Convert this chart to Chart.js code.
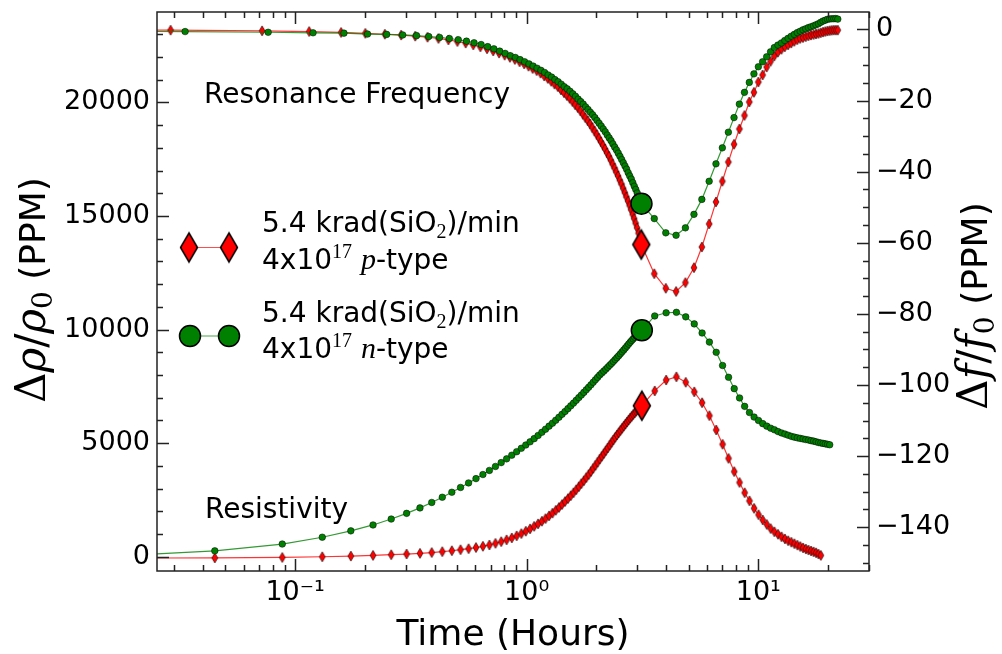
<!DOCTYPE html>
<html lang="en">
<head>
<meta charset="UTF-8">
<title>Resistivity and resonance frequency vs time</title>
<script src="https://cdn.jsdelivr.net/npm/chart.js@4.4.1/dist/chart.umd.min.js"></script>
<style>
  html, body { margin: 0; padding: 0; background: #fff; }
</style>
</head>
<body>
<canvas id="grafico" width="1002" height="654"></canvas>
<script>
// time (hours) - during irradiation (fine steps) and after (coarse steps)
const tPreP = [0.0145, 0.029, 0.072, 0.115, 0.158, 0.201, 0.244, 0.287, 0.330, 0.373, 0.416, 0.459, 0.502, 0.545, 0.588, 0.631, 0.674, 0.717, 0.760, 0.803, 0.846, 0.889, 0.932, 0.975, 1.018, 1.061, 1.104, 1.147, 1.190, 1.233, 1.276, 1.319, 1.362, 1.405, 1.448, 1.491, 1.534, 1.577, 1.620, 1.663, 1.706, 1.749, 1.792, 1.835, 1.878, 1.921, 1.964, 2.007, 2.050, 2.093, 2.136, 2.179, 2.222, 2.265, 2.308, 2.351, 2.394, 2.437, 2.480, 2.523, 2.566, 2.609, 2.652, 2.695, 2.738, 2.781, 2.824, 2.867, 2.910, 2.953, 2.996, 3.039, 3.082, 3.125];
const tPreN = [0.0145, 0.0335, 0.0765, 0.1195, 0.1625, 0.2055, 0.2485, 0.2915, 0.3345, 0.3775, 0.4205, 0.4635, 0.5065, 0.5495, 0.5925, 0.6355, 0.6785, 0.7215, 0.7645, 0.8075, 0.8505, 0.8935, 0.9365, 0.9795, 1.0225, 1.0655, 1.1085, 1.1515, 1.1945, 1.2375, 1.2805, 1.3235, 1.3665, 1.4095, 1.4525, 1.4955, 1.5385, 1.5815, 1.6245, 1.6675, 1.7105, 1.7535, 1.7965, 1.8395, 1.8825, 1.9255, 1.9685, 2.0115, 2.0545, 2.0975, 2.1405, 2.1835, 2.2265, 2.2695, 2.3125, 2.3555, 2.3985, 2.4415, 2.4845, 2.5275, 2.5705, 2.6135, 2.6565, 2.6995, 2.7425, 2.7855, 2.8285, 2.8715, 2.9145, 2.9575, 3.0005, 3.0435, 3.0865, 3.1295];
const tPreRes = [0.0145, 0.045, 0.088, 0.131, 0.174, 0.217, 0.260, 0.303, 0.346, 0.389, 0.432, 0.475, 0.518, 0.561, 0.604, 0.647, 0.690, 0.733, 0.776, 0.819, 0.862, 0.905, 0.948, 0.991, 1.034, 1.077, 1.120, 1.163, 1.206, 1.249, 1.292, 1.335, 1.378, 1.421, 1.464, 1.507, 1.550, 1.593, 1.636, 1.679, 1.722, 1.765, 1.808, 1.851, 1.894, 1.937, 1.980, 2.023, 2.066, 2.109, 2.152, 2.195, 2.238, 2.281, 2.324, 2.367, 2.410, 2.453, 2.496, 2.539, 2.582, 2.625, 2.668, 2.711, 2.754, 2.797, 2.840, 2.883, 2.926, 2.969, 3.012, 3.055, 3.098, 3.141];
const tPostFreq = [3.555, 3.985, 4.415, 4.845, 5.275, 5.705, 6.135, 6.565, 6.995, 7.425, 7.855, 8.285, 8.715, 9.145, 9.575, 10.005, 10.435, 10.865, 11.295, 11.725, 12.155, 12.585, 13.015, 13.445, 13.875, 14.305, 14.735, 15.165, 15.595, 16.025, 16.455, 16.885, 17.315, 17.745, 18.175, 18.605, 19.035, 19.465, 19.895, 20.325, 20.755, 21.185, 21.615, 22.045];
const tPostRes = [3.57, 4.00, 4.43, 4.86, 5.29, 5.72, 6.15, 6.58, 7.01, 7.44, 7.87, 8.30, 8.73, 9.16, 9.59, 10.02, 10.45, 10.88, 11.31, 11.74, 12.17, 12.60, 13.03, 13.46, 13.89, 14.32, 14.75, 15.18, 15.61, 16.04, 16.47, 16.90, 17.33, 17.76, 18.19, 18.62, 19.05, 19.48, 19.91, 20.34];

// resonance frequency shift (PPM, right axis)
const freqPPre = [-0.2, -0.2, -0.4, -0.6, -0.85, -1.1, -1.35, -1.6, -1.9, -2.2, -2.55, -2.95, -3.4, -3.85, -4.35, -4.9, -5.45, -6.05, -6.65, -7.25, -7.85, -8.45, -9.1, -9.7, -10.35, -11.0, -11.6, -12.3, -13.1, -13.8, -14.6, -15.4, -16.1, -17.0, -17.8, -18.6, -19.4, -20.3, -21.2, -22.0, -22.9, -23.9, -24.8, -25.7, -26.6, -27.6, -28.6, -29.6, -30.6, -31.6, -32.6, -33.6, -34.7, -35.7, -36.8, -37.9, -39.0, -40.1, -41.2, -42.4, -43.5, -44.7, -45.9, -47.1, -48.3, -49.5, -50.7, -52.0, -53.2, -54.5, -55.8, -57.3, -58.9, -60.5];
const freqPPost = [-68.7, -72.8, -73.7, -71.2, -67.0, -61.2, -54.7, -48.5, -42.7, -37.3, -32.3, -28.0, -24.2, -20.4, -17.7, -14.8, -12.8, -10.6, -9.0, -7.5, -6.4, -5.6, -4.9, -4.35, -3.85, -3.35, -2.9, -2.55, -2.3, -2.05, -1.8, -1.6, -1.45, -1.3, -1.15, -0.95, -0.75, -0.6, -0.45, -0.35, -0.25, -0.2, -0.2, -0.2];
const freqNPre = [-0.55, -0.6, -0.8, -0.95, -1.05, -1.3, -1.4, -1.55, -1.75, -2.0, -2.25, -2.55, -2.9, -3.3, -3.75, -4.25, -4.85, -5.45, -6.1, -6.75, -7.4, -7.9, -8.5, -9.1, -9.7, -10.3, -10.9, -11.5, -12.1, -12.8, -13.4, -14.1, -14.7, -15.4, -16.1, -16.7, -17.4, -18.1, -18.8, -19.6, -20.3, -21.0, -21.8, -22.5, -23.3, -24.0, -24.8, -25.6, -26.4, -27.2, -28.0, -28.8, -29.7, -30.5, -31.3, -32.2, -33.1, -33.9, -34.8, -35.7, -36.6, -37.5, -38.4, -39.3, -40.3, -41.2, -42.1, -43.1, -44.1, -45.0, -46.0, -47.0, -48.0, -49.0];
const freqNPost = [-53.2, -57.2, -57.9, -55.8, -52.0, -47.8, -42.7, -37.8, -33.3, -28.9, -24.8, -21.0, -17.7, -14.9, -12.5, -10.5, -9.1, -7.7, -6.3, -5.1, -4.4, -3.8, -3.1, -2.5, -1.9, -1.4, -0.9, -0.5, -0.1, 0.2, 0.5, 0.75, 1.0, 1.3, 1.6, 2.0, 2.35, 2.6, 2.85, 2.95, 3.0, 3.0, 3.05, 2.9];

// resistivity change (PPM, left axis)
const resPPre = [-60, -50, -30, 0, 30, 60, 90, 120, 150, 185, 225, 265, 310, 355, 405, 460, 520, 590, 665, 745, 830, 920, 1020, 1125, 1230, 1340, 1450, 1565, 1680, 1800, 1920, 2045, 2170, 2300, 2430, 2560, 2690, 2820, 2950, 3085, 3220, 3350, 3485, 3620, 3755, 3890, 4025, 4160, 4295, 4420, 4545, 4670, 4790, 4910, 5030, 5145, 5255, 5360, 5460, 5560, 5655, 5750, 5840, 5930, 6015, 6100, 6180, 6260, 6335, 6405, 6475, 6540, 6600, 6650];
const resPPost = [7300, 7780, 7920, 7680, 7260, 6780, 6210, 5580, 4950, 4330, 3750, 3270, 2820, 2460, 2130, 1850, 1620, 1420, 1240, 1100, 990, 880, 785, 705, 640, 575, 510, 450, 390, 340, 295, 255, 215, 175, 120, 60];
const resNPre = [0, 260, 560, 860, 1140, 1400, 1660, 1910, 2150, 2390, 2620, 2840, 3050, 3250, 3440, 3620, 3800, 3975, 4145, 4310, 4470, 4625, 4775, 4920, 5060, 5200, 5340, 5480, 5615, 5750, 5880, 6010, 6140, 6270, 6395, 6520, 6645, 6765, 6885, 7005, 7120, 7235, 7350, 7460, 7570, 7680, 7790, 7895, 8000, 8085, 8170, 8255, 8340, 8425, 8510, 8595, 8680, 8765, 8850, 8935, 9020, 9105, 9190, 9275, 9360, 9440, 9520, 9590, 9660, 9730, 9800, 9860, 9920, 9970];
const resNPost = [10600, 10740, 10760, 10560, 10250, 9850, 9450, 9000, 8420, 7900, 7400, 6990, 6620, 6350, 6150, 6000, 5860, 5750, 5660, 5590, 5510, 5450, 5400, 5350, 5300, 5265, 5235, 5210, 5185, 5160, 5140, 5110, 5090, 5060, 5030, 5010, 4990, 4970, 4950, 4930];

// tick labels
const xTicks = [0.1, 1, 10];
const xTickLabels = ['10⁻¹', '10⁰', '10¹'];
const yTicks = [0, 5000, 10000, 15000, 20000];
const yTickLabels = ['0', '5000', '10000', '15000', '20000'];
const y2Ticks = [-140, -120, -100, -80, -60, -40, -20, 0];
const y2TickLabels = ['−140', '−120', '−100', '−80', '−60', '−40', '−20', '0'];

const RED = '#ff0000';
const GREEN = '#008000';

function points(times, values) {
  return values.map((v, i) => ({ x: times[i], y: v }));
}
function last(arr) { return arr[arr.length - 1]; }

// thin diamond marker drawn on a small canvas
function diamond(w, h, fill, lw) {
  const c = document.createElement('canvas');
  c.width = Math.ceil(w + lw * 2 + 2);
  c.height = Math.ceil(h + lw * 2 + 2);
  const g = c.getContext('2d');
  const cx = c.width / 2, cy = c.height / 2;
  g.beginPath();
  g.moveTo(cx, cy - h / 2);
  g.lineTo(cx + w / 2, cy);
  g.lineTo(cx, cy + h / 2);
  g.lineTo(cx - w / 2, cy);
  g.closePath();
  g.fillStyle = fill;
  g.fill();
  g.lineWidth = lw;
  g.strokeStyle = '#000';
  g.stroke();
  return c;
}
const smallDiamond = diamond(6, 10, RED, 0.6);
const bigDiamond = diamond(17, 29, RED, 1.5);

function rich(ctx, parts, x, y, align) {
  let w = 0;
  parts.forEach(p => { ctx.font = p[1]; w += ctx.measureText(p[0]).width; });
  let cx = align === 'center' ? x - w / 2 : x;
  parts.forEach(p => {
    ctx.font = p[1];
    ctx.fillText(p[0], cx, y + (p[2] || 0));
    cx += ctx.measureText(p[0]).width;
  });
}

const SANS = 'DejaVu Sans';
const SERIF = 'Liberation Serif';
const MATH = 'DejaVu Serif';

const decoracao = {
  id: 'decoracao',
  afterDatasetsDraw(chart) {
    const { ctx, chartArea: a, scales } = chart;
    const sx = scales.x, sy = scales.y, sy2 = scales.y2;
    ctx.save();
    ctx.strokeStyle = '#222';
    ctx.lineWidth = 1.5;

    // x ticks, bottom and top, pointing inwards
    const xs = [];
    for (let d = -2; d <= 1; d++) {
      for (let m = 1; m <= 9; m++) xs.push(m * Math.pow(10, d));
    }
    ctx.beginPath();
    xs.forEach(v => {
      if (v < sx.min || v > sx.max) return;
      const px = Math.round(sx.getPixelForValue(v)) + 0.5;
      const len = xTicks.includes(v) ? 12 : 6;
      ctx.moveTo(px, a.bottom); ctx.lineTo(px, a.bottom - len);
      ctx.moveTo(px, a.top); ctx.lineTo(px, a.top + len);
    });
    // left axis ticks
    for (let v = 0; v <= 23000; v += 1000) {
      const py = Math.round(sy.getPixelForValue(v)) + 0.5;
      const len = v % 5000 === 0 ? 12 : 6;
      ctx.moveTo(a.left, py); ctx.lineTo(a.left + len, py);
    }
    // right axis ticks
    for (let v = -150; v <= 0; v += 5) {
      const py = Math.round(sy2.getPixelForValue(v)) + 0.5;
      const len = v % 20 === 0 ? 12 : 6;
      ctx.moveTo(a.right, py); ctx.lineTo(a.right - len, py);
    }
    ctx.stroke();
    ctx.strokeRect(a.left, a.top, a.right - a.left, a.bottom - a.top);

    ctx.fillStyle = '#000';
    ctx.textBaseline = 'alphabetic';
    ctx.textAlign = 'left';

    // annotations
    ctx.font = '28px ' + SANS;
    ctx.fillText('Resonance Frequency', 204, 103);
    ctx.fillText('Resistivity', 205, 518);

    // legend
    ctx.lineWidth = 1.2;
    ctx.strokeStyle = 'rgba(255,0,0,0.7)';
    ctx.beginPath(); ctx.moveTo(189, 247.5); ctx.lineTo(229, 247.5); ctx.stroke();
    ctx.drawImage(bigDiamond, 189 - bigDiamond.width / 2, 247.5 - bigDiamond.height / 2);
    ctx.drawImage(bigDiamond, 229 - bigDiamond.width / 2, 247.5 - bigDiamond.height / 2);
    ctx.strokeStyle = 'rgba(0,128,0,0.7)';
    ctx.beginPath(); ctx.moveTo(190, 336); ctx.lineTo(229, 336); ctx.stroke();
    [190, 229].forEach(cx => {
      ctx.beginPath(); ctx.arc(cx, 336, 10.5, 0, Math.PI * 2);
      ctx.fillStyle = GREEN; ctx.fill();
      ctx.lineWidth = 1.5; ctx.strokeStyle = '#000'; ctx.stroke();
    });
    ctx.fillStyle = '#000';
    const f = '28px ' + SANS;
    const sub = '20px ' + SERIF;
    const it = 'italic 30px ' + SERIF;
    rich(ctx, [['5.4 krad(SiO', f], ['2', sub, 6], [')/min', f]], 262, 232);
    rich(ctx, [['4x10', f], ['17', sub, -11], [' ', f], ['p', it], ['-type', f]], 262, 269);
    rich(ctx, [['5.4 krad(SiO', f], ['2', sub, 6], [')/min', f]], 262, 322);
    rich(ctx, [['4x10', f], ['17', sub, -11], [' ', f], ['n', it], ['-type', f]], 262, 358);

    // axis titles
    ctx.font = '36px ' + SANS;
    ctx.textAlign = 'center';
    ctx.fillText('Time (Hours)', (a.left + a.right) / 2, 645);
    ctx.textAlign = 'left';

    const tf = '36px ' + SANS;
    const mu = '42px ' + MATH;
    const mi = 'italic 42px ' + MATH;
    const ms = '28px ' + MATH;
    ctx.save();
    ctx.translate(45, 290);
    ctx.rotate(-Math.PI / 2);
    rich(ctx, [['Δ', mu], ['ρ', mi], ['/', mu], ['ρ', mi], ['0', ms, 7], [' (PPM)', tf]], 0, 0, 'center');
    ctx.restore();
    ctx.save();
    ctx.translate(987, 306);
    ctx.rotate(-Math.PI / 2);
    rich(ctx, [['Δ', mu], ['f', mi], ['/', mu], ['f', mi], ['0', ms, 7], [' (PPM)', tf]], 0, 0, 'center');
    ctx.restore();

    ctx.restore();
  }
};

const tickFont = { family: SANS, size: 27 };

new Chart(document.getElementById('grafico'), {
  type: 'line',
  data: {
    datasets: [
      {
        label: 'freq p', yAxisID: 'y2', order: 6,
        data: points(tPreP.concat(tPostFreq), freqPPre.concat(freqPPost)),
        borderColor: 'rgba(255,0,0,0.8)', borderWidth: 1.2,
        pointStyle: smallDiamond, pointRadius: 3
      },
      {
        label: 'freq n', yAxisID: 'y2', order: 5,
        data: points(tPreN.concat(tPostFreq), freqNPre.concat(freqNPost)),
        borderColor: 'rgba(0,128,0,0.8)', borderWidth: 1.2,
        pointStyle: 'circle', pointRadius: 3.3,
        pointBackgroundColor: GREEN, pointBorderColor: '#000', pointBorderWidth: 0.5
      },
      {
        label: 'res p', yAxisID: 'y', order: 4,
        data: points(tPreRes.concat(tPostRes), resPPre.concat(resPPost)),
        borderColor: 'rgba(255,0,0,0.8)', borderWidth: 1.2,
        pointStyle: smallDiamond, pointRadius: 3
      },
      {
        label: 'res n', yAxisID: 'y', order: 3,
        data: points(tPreRes.concat(tPostRes), resNPre.concat(resNPost)),
        borderColor: 'rgba(0,128,0,0.8)', borderWidth: 1.2,
        pointStyle: 'circle', pointRadius: 3.3,
        pointBackgroundColor: GREEN, pointBorderColor: '#000', pointBorderWidth: 0.5
      },
      // end of irradiation markers
      {
        label: 'end p freq', yAxisID: 'y2', order: 1, showLine: false,
        data: [{ x: last(tPreP), y: last(freqPPre) }],
        pointStyle: bigDiamond, pointRadius: 10
      },
      {
        label: 'end n freq', yAxisID: 'y2', order: 1, showLine: false,
        data: [{ x: last(tPreN), y: last(freqNPre) }],
        pointStyle: 'circle', pointRadius: 10.5,
        pointBackgroundColor: GREEN, pointBorderColor: '#000', pointBorderWidth: 1.5
      },
      {
        label: 'end p res', yAxisID: 'y', order: 1, showLine: false,
        data: [{ x: last(tPreRes), y: last(resPPre) }],
        pointStyle: bigDiamond, pointRadius: 10
      },
      {
        label: 'end n res', yAxisID: 'y', order: 1, showLine: false,
        data: [{ x: last(tPreRes), y: last(resNPre) }],
        pointStyle: 'circle', pointRadius: 10.5,
        pointBackgroundColor: GREEN, pointBorderColor: '#000', pointBorderWidth: 1.5
      }
    ]
  },
  options: {
    responsive: false,
    animation: false,
    devicePixelRatio: 1,
    layout: { padding: { top: 10, left: 0, right: 0, bottom: 0 } },
    elements: { line: { tension: 0, fill: false } },
    plugins: { legend: { display: false }, tooltip: { enabled: false } },
    scales: {
      x: {
        type: 'logarithmic', position: 'bottom', min: 0.02533, max: 30.06,
        grid: { display: false, drawTicks: false }, border: { display: false },
        ticks: { font: tickFont, color: '#000', padding: 6, autoSkip: false, maxRotation: 0,
          callback: (v, i) => xTickLabels[i] },
        afterBuildTicks: s => { s.ticks = xTicks.map(v => ({ value: v })); },
        afterFit: s => { s.height = 83; s.paddingLeft = 0; s.paddingRight = 0; }
      },
      y: {
        type: 'linear', position: 'left', min: -627, max: 23980,
        grid: { display: false, drawTicks: false }, border: { display: false },
        ticks: { font: tickFont, color: '#000', padding: 7,
          callback: (v, i) => yTickLabels[i] },
        afterBuildTicks: s => { s.ticks = yTicks.map(v => ({ value: v })); },
        afterFit: s => { s.width = 157; s.paddingTop = 0; s.paddingBottom = 0; }
      },
      y2: {
        type: 'linear', position: 'right', min: -152.3, max: 4.9,
        grid: { display: false, drawTicks: false }, border: { display: false },
        ticks: { font: tickFont, color: '#000', padding: 7,
          callback: (v, i) => y2TickLabels[i] },
        afterBuildTicks: s => { s.ticks = y2Ticks.map(v => ({ value: v })); },
        afterFit: s => { s.width = 133; s.paddingTop = 0; s.paddingBottom = 0; }
      }
    }
  },
  plugins: [decoracao]
});
</script>
</body>
</html>
